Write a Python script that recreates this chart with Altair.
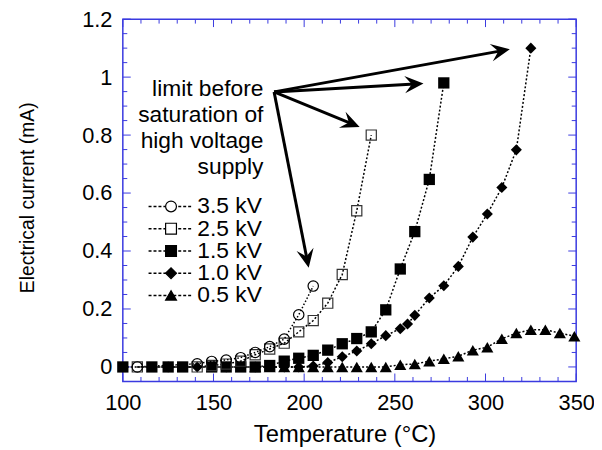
import math
import altair as alt
import pandas as pd

W, H = 458, 366
X_DOM = [100, 350]
Y_DOM = [-0.05, 1.2]
BLUE = "#3a3ae0"
FONT = "Liberation Sans"

series_names = ["3.5 kV", "2.5 kV", "1.5 kV", "1.0 kV", "0.5 kV"]

t_35 = [108, 141, 149, 157, 165, 173, 181, 189, 197, 205]
i_35 = [0.0, 0.011, 0.019, 0.024, 0.032, 0.05, 0.07, 0.096, 0.18, 0.279]

t_25 = [108, 141, 149, 157, 165, 173, 181, 189, 197, 205, 213, 221, 229, 237]
i_25 = [0.0, 0.0, 0.005, 0.01, 0.02, 0.042, 0.062, 0.082, 0.121, 0.16, 0.22, 0.319, 0.539, 0.80]

t_15 = [100, 116, 125, 133, 149, 157, 165, 173, 181, 189, 197, 205, 213, 221, 229, 237, 245, 253, 261, 269, 277]
i_15 = [0.0, 0.0, 0.0, 0.0, 0.0, 0.0, 0.0, 0.0, 0.005, 0.02, 0.03, 0.04, 0.058, 0.08, 0.098, 0.121, 0.197, 0.338, 0.467, 0.647, 0.98]

t_10 = [125, 141, 157, 173, 189, 197, 205, 213, 221, 229, 237, 245, 253, 257, 261, 269, 277, 285, 293, 301, 309, 317, 325]
i_10 = [0.0, 0.0, 0.0, 0.0, 0.0, 0.0, 0.003, 0.015, 0.035, 0.055, 0.08, 0.108, 0.132, 0.148, 0.178, 0.238, 0.28, 0.347, 0.448, 0.528, 0.619, 0.749, 1.10]

t_05 = [173, 181, 189, 197, 205, 213, 221, 229, 237, 245, 253, 261, 269, 277, 285, 293, 301, 309, 317, 325, 333, 341, 349]
i_05 = [0.0, 0.0, 0.0, 0.0, 0.0, 0.0, 0.0, 0.0, 0.0, 0.0, 0.008, 0.01, 0.02, 0.028, 0.037, 0.058, 0.068, 0.097, 0.117, 0.128, 0.128, 0.117, 0.106]

x_major = [100, 150, 200, 250, 300, 350]
x_minor = [110, 120, 130, 140, 160, 170, 180, 190, 210, 220, 230, 240,
           260, 270, 280, 290, 310, 320, 330, 340]
y_major = [0, 0.2, 0.4, 0.6, 0.8, 1.0, 1.2]
y_minor = [0.05, 0.1, 0.15, 0.25, 0.3, 0.35, 0.45, 0.5, 0.55, 0.65, 0.7, 0.75,
           0.85, 0.9, 0.95, 1.05, 1.1, 1.15]

arrow_from_t = 183.4
arrow_from_i = 0.949
arrow_to_t = [313.4, 265.8, 230.6, 202.5]
arrow_to_i = [1.096, 0.978, 0.828, 0.342]

note_lines = ["limit before", "saturation of", "high voltage", "supply"]
note_t = 177.5
note_i = 0.96

# ---------------------------------------------------------------- scales/axes
xs = alt.Scale(domain=X_DOM, nice=False, zero=False)
ys = alt.Scale(domain=Y_DOM, nice=False, zero=False)

x_axis = alt.Axis(values=x_major, format="d", ticks=False, tickSize=0, domain=False,
                  grid=False, labelFontSize=22, labelPadding=11, labelColor="black",
                  labelFlush=False, labelFont=FONT, title="Temperature (°C)", titleFont=FONT,
                  titleFontSize=24, titleFontWeight="normal", titleColor="black",
                  titleX=224, titleY=61, titleBaseline="alphabetic", titleAnchor="middle")
y_axis = alt.Axis(values=y_major, format="~g", ticks=False, tickSize=0, domain=False,
                  grid=False, labelFontSize=22, labelPadding=11, labelColor="black",
                  labelFlush=False, labelFont=FONT, title="Electrical current (mA)",
                  titleFont=FONT, titleFontSize=19.5, titleFontWeight="normal",
                  titleColor="black", titleAngle=270, titleX=-90, titleY=H / 2 - 3,
                  titleBaseline="alphabetic", titleAlign="center")


def xq(field):
    return alt.X(field, type="quantitative", scale=xs, axis=x_axis)


def yq(field):
    return alt.Y(field, type="quantitative", scale=ys, axis=y_axis)


# ---------------------------------------------------------------- ticks
def xticks(vals, length):
    df = pd.DataFrame({"T": vals})
    b = alt.Chart(df).mark_rule(color=BLUE, strokeWidth=1)
    return [
        b.encode(x=xq("T"), y=alt.value(H), y2=alt.value(H - length)),
        b.encode(x=xq("T"), y=alt.value(0), y2=alt.value(length)),
    ]


def yticks(vals, length):
    df = pd.DataFrame({"I": vals})
    b = alt.Chart(df).mark_rule(color=BLUE, strokeWidth=1)
    return [
        b.encode(y=yq("I"), x=alt.value(0), x2=alt.value(length)),
        b.encode(y=yq("I"), x=alt.value(W), x2=alt.value(W - length)),
    ]


tick_layers = xticks(x_major, 8) + xticks(x_minor, 4.5) + yticks(y_major, 8) + yticks(y_minor, 4.5)


# ---------------------------------------------------------------- series
def series(t, i, shape, filled, size, stroke="black", dash=(2, 2)):
    df = pd.DataFrame({"T": t, "I": i})
    line = alt.Chart(df).mark_line(color="black", strokeWidth=1.5, strokeDash=list(dash)).encode(
        x=xq("T"), y=yq("I"))
    if filled:
        pts = alt.Chart(df).mark_point(shape=shape, filled=True, color="black", size=size,
                                       opacity=1, strokeWidth=0)
    else:
        pts = alt.Chart(df).mark_point(shape=shape, filled=False, color=stroke, size=size,
                                       opacity=1, strokeWidth=1.2)
    pts = pts.encode(x=xq("T"), y=yq("I"))
    return [line, pts]


data_layers = (
    series(t_05, i_05, "triangle-up", True, 150)
    + series(t_10, i_10, "diamond", True, 125)
    + series(t_15, i_15, "square", True, 130)
    + series(t_25, i_25, "square", False, 105, stroke="#333333")
    + series(t_35, i_35, "circle", False, 110, dash=(1.5, 2))
)

# ---------------------------------------------------------------- arrows
def px(t):
    return (t - X_DOM[0]) / (X_DOM[1] - X_DOM[0]) * W


def py(v):
    return (Y_DOM[1] - v) / (Y_DOM[1] - Y_DOM[0]) * H


def inv_t(p):
    return X_DOM[0] + p / W * (X_DOM[1] - X_DOM[0])


def inv_i(p):
    return Y_DOM[1] - p / H * (Y_DOM[1] - Y_DOM[0])


rows = []
for tt, ii in zip(arrow_to_t, arrow_to_i):
    dx = px(tt) - px(arrow_from_t)
    dy = py(ii) - py(arrow_from_i)
    d = math.hypot(dx, dy)
    ang = math.degrees(math.atan2(dy, dx)) % 360
    ex = px(tt) - dx / d * 9
    ey = py(ii) - dy / d * 9
    rows.append({"T0": arrow_from_t, "I0": arrow_from_i, "T1": inv_t(ex), "I1": inv_i(ey),
                 "Tt": tt, "It": ii, "ang": ang})
arrows = pd.DataFrame(rows)

shaft = alt.Chart(arrows).mark_rule(color="black", strokeWidth=3, strokeCap="butt").encode(
    x=xq("T0"), y=yq("I0"), x2=alt.X2("T1"), y2=alt.Y2("I1"))
head = alt.Chart(arrows).mark_point(
    shape="M0,0L-1,-0.46L-0.62,0L-1,0.46Z", filled=True, color="black", size=1444,
    opacity=1, strokeWidth=0).encode(
    x=xq("Tt"), y=yq("It"), angle=alt.Angle("ang:Q", scale=None))

note = alt.Chart(pd.DataFrame({"T": [note_t], "I": [note_i]})).mark_text(
    align="right", baseline="middle", fontSize=23, lineHeight=26.3, font=FONT, color="black"
).encode(x=xq("T"), y=yq("I"), text=alt.value(note_lines))

main = alt.layer(*tick_layers, *data_layers, shaft, head, note)

# ---------------------------------------------------------------- legend
leg_df = pd.DataFrame({"series": series_names})
leg_y = alt.Y("series:N", scale=alt.Scale(domain=series_names, range=[178, 290.3], padding=0),
              axis=None)
leg_line = alt.Chart(leg_df).mark_rule(color="black", strokeWidth=1.5, strokeDash=[3, 2]).encode(
    x=alt.value(26), x2=alt.value(71), y=leg_y)
leg_pts = alt.Chart(leg_df).mark_point(filled=True, stroke="black", strokeWidth=1.2, size=120,
                                      opacity=1).encode(
    x=alt.value(48.7), y=leg_y,
    shape=alt.Shape("series:N", scale=alt.Scale(domain=series_names,
                    range=["circle", "square", "square", "diamond", "triangle-up"]), legend=None),
    fill=alt.Fill("series:N", scale=alt.Scale(domain=series_names,
                  range=["white", "white", "black", "black", "black"]), legend=None))
leg_txt = alt.Chart(leg_df).mark_text(align="left", baseline="middle", fontSize=23, font=FONT,
                                      color="black").encode(
    x=alt.value(75.3), y=leg_y, text="series:N")
legend = alt.layer(leg_line, leg_pts, leg_txt)

chart = alt.layer(main, legend).resolve_scale(y="independent").properties(
    width=W, height=H,
    autosize=alt.AutoSizeParams(type="none"),
    padding={"left": 116, "top": 9, "right": 18, "bottom": 67},
).configure(font=FONT).configure_view(stroke=BLUE, strokeWidth=1.5)

chart.save("out.html", embed_options={"renderer": "svg", "actions": False})
